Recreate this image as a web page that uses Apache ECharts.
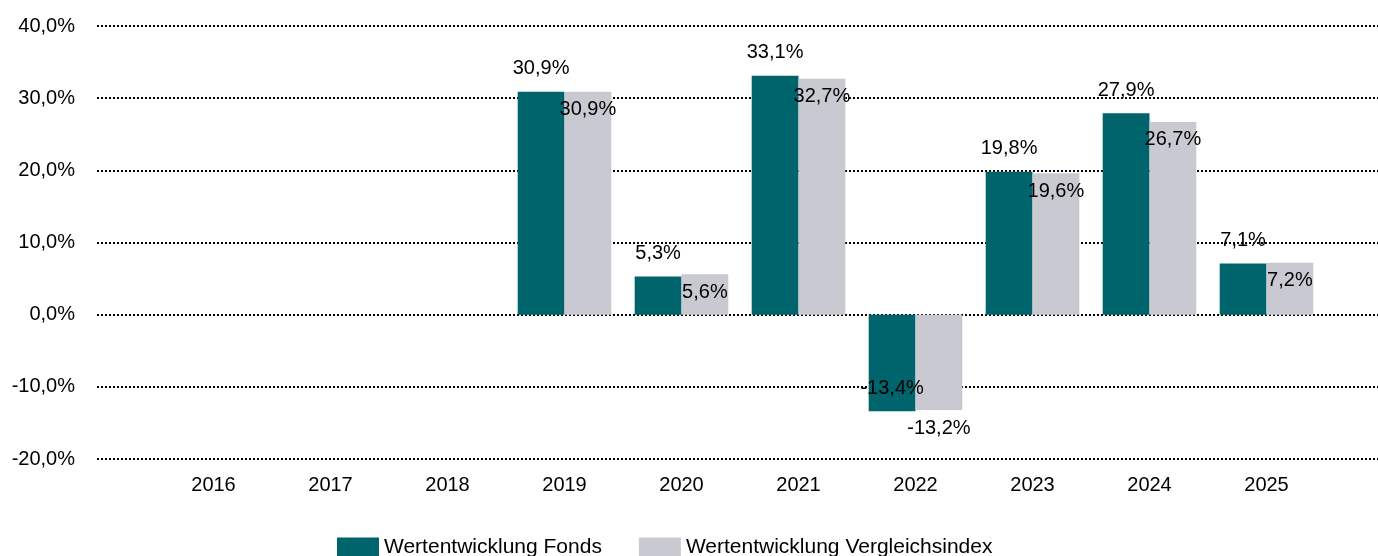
<!DOCTYPE html>
<html>
<head>
<meta charset="utf-8">
<script src="https://cdn.jsdelivr.net/npm/echarts@6/dist/echarts.min.js"></script>
<style>
  html, body { margin: 0; padding: 0; background: #fff; }
  #chart { width: 1378px; height: 556px; }
</style>
</head>
<body>
<div id="chart"></div>
<script>
// Daten
var years = ['2016', '2017', '2018', '2019', '2020', '2021', '2022', '2023', '2024', '2025'];
var fonds = ['-', '-', '-', 30.9, 5.3, 33.1, -13.4, 19.8, 27.9, 7.1];
var index = ['-', '-', '-', 30.9, 5.6, 32.7, -13.2, 19.6, 26.7, 7.2];
var yTicks = [-20, -10, 0, 10, 20, 30, 40];

var font = 'Liberation Sans, Arial, sans-serif';
function pct(v) { return v.toFixed(1).replace('.', ',') + '%'; }

// Fonds: positiv ueber dem Balken, negativ innen am Ende
var fondsData = fonds.map(function (v) {
  if (v === '-') return v;
  return { value: v, label: v >= 0 ? { position: 'top', distance: 13 } : { position: 'insideBottom', distance: 13 } };
});
// Vergleichsindex: positiv innen oben, negativ unter dem Balken
var indexData = index.map(function (v) {
  if (v === '-') return v;
  return { value: v, label: v >= 0 ? { position: 'insideTop', distance: 8 } : { position: 'bottom', distance: 9 } };
});

var chart = echarts.init(document.getElementById('chart'));

var option = {
  animation: false,
  textStyle: { fontFamily: font },
  grid: [
    // Gitterlinien ueber die ganze Breite
    { left: 97, right: 0, top: 26, bottom: 97 },
    // Balken
    { left: 155, right: 53, top: 26, bottom: 97 }
  ],
  legend: {
    top: 532,
    left: 332,
    itemWidth: 42,
    itemHeight: 20,
    itemGap: 37,
    icon: 'rect',
    textStyle: { fontSize: 21, color: '#000', fontFamily: font },
    data: ['Wertentwicklung Fonds', 'Wertentwicklung Vergleichsindex']
  },
  xAxis: [
    { type: 'category', gridIndex: 0, data: years, show: false },
    {
      type: 'category', gridIndex: 1, data: years,
      axisLine: { show: false },
      axisTick: { show: false },
      axisLabel: { color: '#000', fontSize: 20, margin: 16, fontFamily: font }
    }
  ],
  yAxis: [
    {
      type: 'value', gridIndex: 0,
      min: yTicks[0], max: yTicks[yTicks.length - 1], interval: 10,
      axisLine: { show: false },
      axisTick: { show: false },
      axisLabel: {
        color: '#000', fontSize: 20, margin: 22, fontFamily: font,
        formatter: function (v) { return pct(v); }
      },
      splitLine: { lineStyle: { color: '#000', width: 2, type: [2, 2] } }
    },
    {
      type: 'value', gridIndex: 1,
      min: yTicks[0], max: yTicks[yTicks.length - 1], interval: 10,
      show: false,
      splitLine: { show: false }
    }
  ],
  series: [
    {
      name: 'Wertentwicklung Fonds',
      type: 'bar',
      xAxisIndex: 1, yAxisIndex: 1,
      barCategoryGap: '20%',
      barGap: '0%',
      itemStyle: { color: '#00646c' },
      label: {
        show: true, color: '#000', fontSize: 20, fontFamily: font,
        formatter: function (p) { return pct(p.value); }
      },
      data: fondsData
    },
    {
      name: 'Wertentwicklung Vergleichsindex',
      type: 'bar',
      xAxisIndex: 1, yAxisIndex: 1,
      barCategoryGap: '20%',
      barGap: '0%',
      itemStyle: { color: '#c9c9d1' },
      label: {
        show: true, color: '#000', fontSize: 20, fontFamily: font,
        formatter: function (p) { return pct(p.value); }
      },
      data: indexData
    }
  ]
};

chart.setOption(option);
</script>
</body>
</html>
